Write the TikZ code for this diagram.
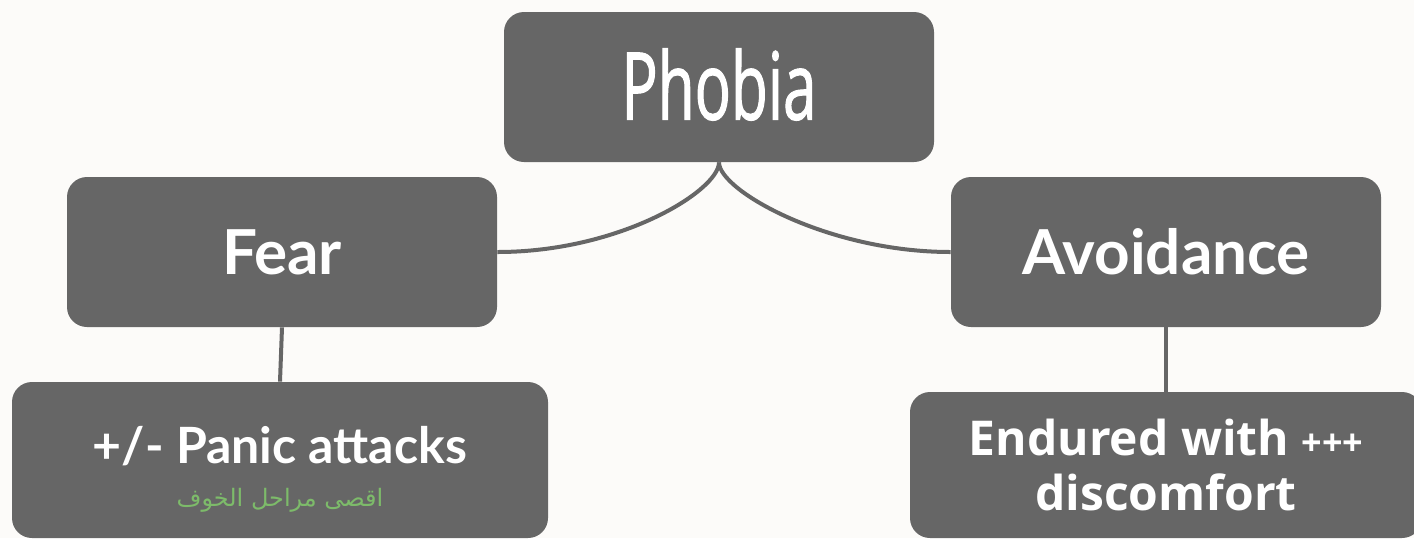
\documentclass[tikz,border=0pt]{standalone}
\usepackage{fontspec}
\newfontfamily\labfont{Lato}
\newfontfamily\endfont{Open Sans}
\newfontfamily\phobiafont[FakeStretch=0.64,FakeBold=1]{Open Sans}
\newfontfamily\arabicfont[Script=Arabic]{DejaVu Sans}
\TeXXeTstate=1
\usetikzlibrary{positioning}
\definecolor{boxgray}{HTML}{666666}
\definecolor{paper}{HTML}{FCFBF9}
\definecolor{leafgreen}{HTML}{7DBB6A}

\begin{document}
\begin{tikzpicture}[x=0.5pt,y=-0.5pt,
	topic/.style={rectangle, rounded corners=10pt, fill=boxgray, text=white,
		minimum width=215pt, minimum height=75pt, inner sep=0pt, align=center,
		font=\labfont\bfseries\fontsize{31}{36}\selectfont},
	link/.style={draw=boxgray, line width=2pt}]
	\fill[paper] (0,0) rectangle (1414,538);
	\useasboundingbox (0,0) rectangle (1414,538);
	
	\node[topic, font=\phobiafont\fontsize{47}{50}\selectfont] (phobia) at (719,87) {\raisebox{3pt}{Phobia}};
	\node[topic] (fear) at (282,252) {Fear};
	\node[topic] (avoid) at (1166,252) {Avoidance};
	\node[topic, minimum width=268pt, minimum height=78pt,
		font=\labfont\bfseries\fontsize{25}{30}\selectfont] (panic) at (280,460)
		{\rule{0pt}{28pt}+/- Panic attacks\\[-8.5pt]
		{\arabicfont\mdseries\color{leafgreen}\fontsize{12}{14}\selectfont\beginR اقصى مراحل الخوف\endR}};
	\node[topic, minimum width=256pt, minimum height=73pt,
		font=\endfont\bfseries\fontsize{24}{27.5}\selectfont] (endured) at (1166,465)
		{Endured with {\fontsize{18}{27.5}\selectfont +++}\\ discomfort};
	
	\draw[link] (phobia.south) .. controls +(0,28) and +(123,0) .. (fear.east);
	\draw[link] (phobia.south) .. controls +(0,28) and +(-123,0) .. (avoid.west);
	\draw[link] (fear.south) -- (panic.north);
	\draw[link] (avoid.south) -- (avoid.south |- endured.north);
\end{tikzpicture}
\end{document}
